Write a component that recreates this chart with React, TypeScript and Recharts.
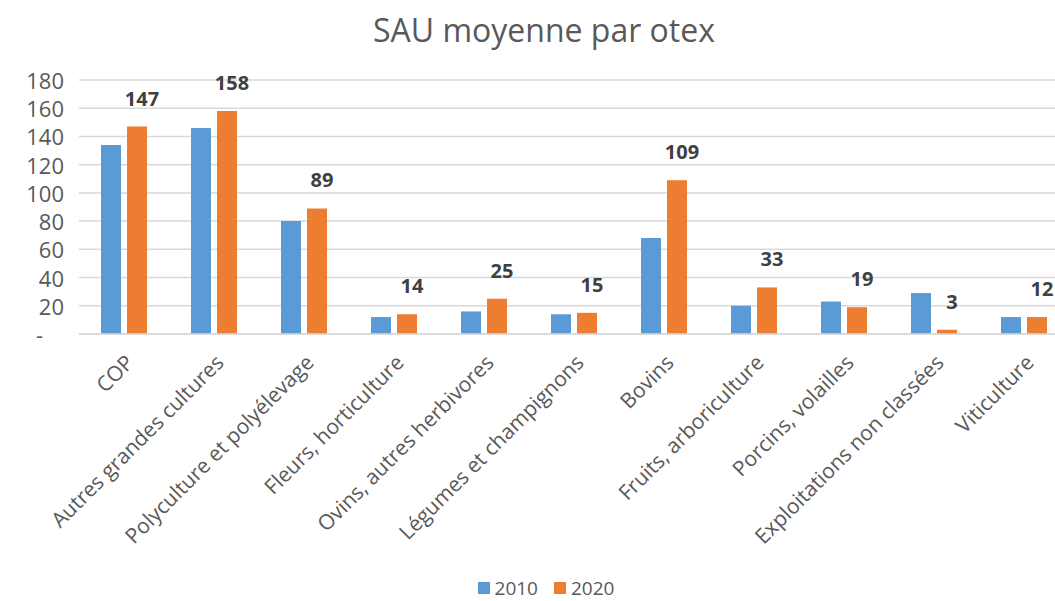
import React from "react";
import { BarChart, Bar, XAxis, YAxis, CartesianGrid, Legend, LabelList } from "recharts";

const categories = [
  "COP",
  "Autres grandes cultures",
  "Polyculture et polyélevage",
  "Fleurs, horticulture",
  "Ovins, autres herbivores",
  "Légumes et champignons",
  "Bovins",
  "Fruits, arboriculture",
  "Porcins, volailles",
  "Exploitations non classées",
  "Viticulture",
];
const values2010 = [134, 146, 80, 12, 16, 14, 68, 20, 23, 29, 12];
const values2020 = [147, 158, 89, 14, 25, 15, 109, 33, 19, 3, 12];
const yTicks = [0, 20, 40, 60, 80, 100, 120, 140, 160, 180];
const seriesNames = ["2010", "2020"];

const data = categories.map((c, i) => ({ name: c, v2010: values2010[i], v2020: values2020[i] }));

const BLUE = "#5B9BD5";
const ORANGE = "#ED7D31";
const TEXT = "#595959";
const FONT = "'Open Sans', sans-serif";

const YTick = (props: any) => {
  const { x, y, payload } = props;
  const isZero = payload.value === 0;
  return (
    <text
      x={isZero ? x - 28 : x - 7}
      y={y}
      textAnchor="end"
      dominantBaseline="central"
      fill={TEXT}
      fontSize={22}
      fontFamily={FONT}
    >
      {isZero ? "-" : payload.value}
    </text>
  );
};

const XTick = (props: any) => {
  const { x, y, payload } = props;
  return (
    <g transform={`translate(${x + 11},${y + 22})`}>
      <text transform="rotate(-45)" textAnchor="end" fill={TEXT} fontSize={21} fontFamily={FONT}>
        {payload.value}
      </text>
    </g>
  );
};

const BarLabel = (props: any) => {
  const { x, y, width, value } = props;
  return (
    <text
      x={x + width / 2 + 5}
      y={y - 21}
      textAnchor="middle"
      fill="#404040"
      fontSize={20}
      fontWeight="bold"
      fontFamily={FONT}
    >
      {value}
    </text>
  );
};

const LegendContent = () => (
  <div
    style={{
      display: "flex",
      justifyContent: "center",
      alignItems: "center",
      paddingTop: 22,
      fontFamily: FONT,
      fontSize: 19,
      lineHeight: "20px",
      color: TEXT,
    }}
  >
    {[BLUE, ORANGE].map((col, i) => (
      <div key={i} style={{ display: "flex", alignItems: "center", margin: "0 8px" }}>
        <span style={{ width: 12, height: 12, background: col, display: "inline-block", marginRight: 5 }} />
        <span>{seriesNames[i]}</span>
      </div>
    ))}
  </div>
);

export default function App() {
  return (
    <div
      style={{
        position: "absolute",
        left: 0,
        top: 0,
        width: 1055,
        height: 601,
        overflow: "hidden",
        background: "#fff",
      }}
    >
      <div
        style={{
          position: "absolute",
          left: 0,
          width: 1088,
          top: 8,
          textAlign: "center",
          fontFamily: FONT,
          fontSize: 32,
          color: TEXT,
          lineHeight: "44px",
        }}
      >
        SAU moyenne par otex
      </div>
      <BarChart
        width={1100}
        height={601}
        data={data}
        margin={{ top: 80, right: 31, left: 8, bottom: 0 }}
        barSize={20}
        barGap={6}
      >
        <CartesianGrid vertical={false} stroke="#D9D9D9" strokeWidth={1.5} />
        <XAxis
          dataKey="name"
          interval={0}
          height={222}
          tickLine={false}
          axisLine={{ stroke: "#D9D9D9", strokeWidth: 1.5 }}
          tick={<XTick />}
        />
        <YAxis
          domain={[0, 180]}
          ticks={yTicks}
          width={71}
          axisLine={false}
          tickLine={false}
          tick={<YTick />}
        />
        <Legend
          verticalAlign="bottom"
          height={45}
          content={<LegendContent />}
          wrapperStyle={{ left: 0, width: 1092 }}
        />
        <Bar dataKey="v2010" name="2010" fill={BLUE} isAnimationActive={false} />
        <Bar dataKey="v2020" name="2020" fill={ORANGE} isAnimationActive={false}>
          <LabelList dataKey="v2020" content={<BarLabel />} />
        </Bar>
      </BarChart>
    </div>
  );
}
